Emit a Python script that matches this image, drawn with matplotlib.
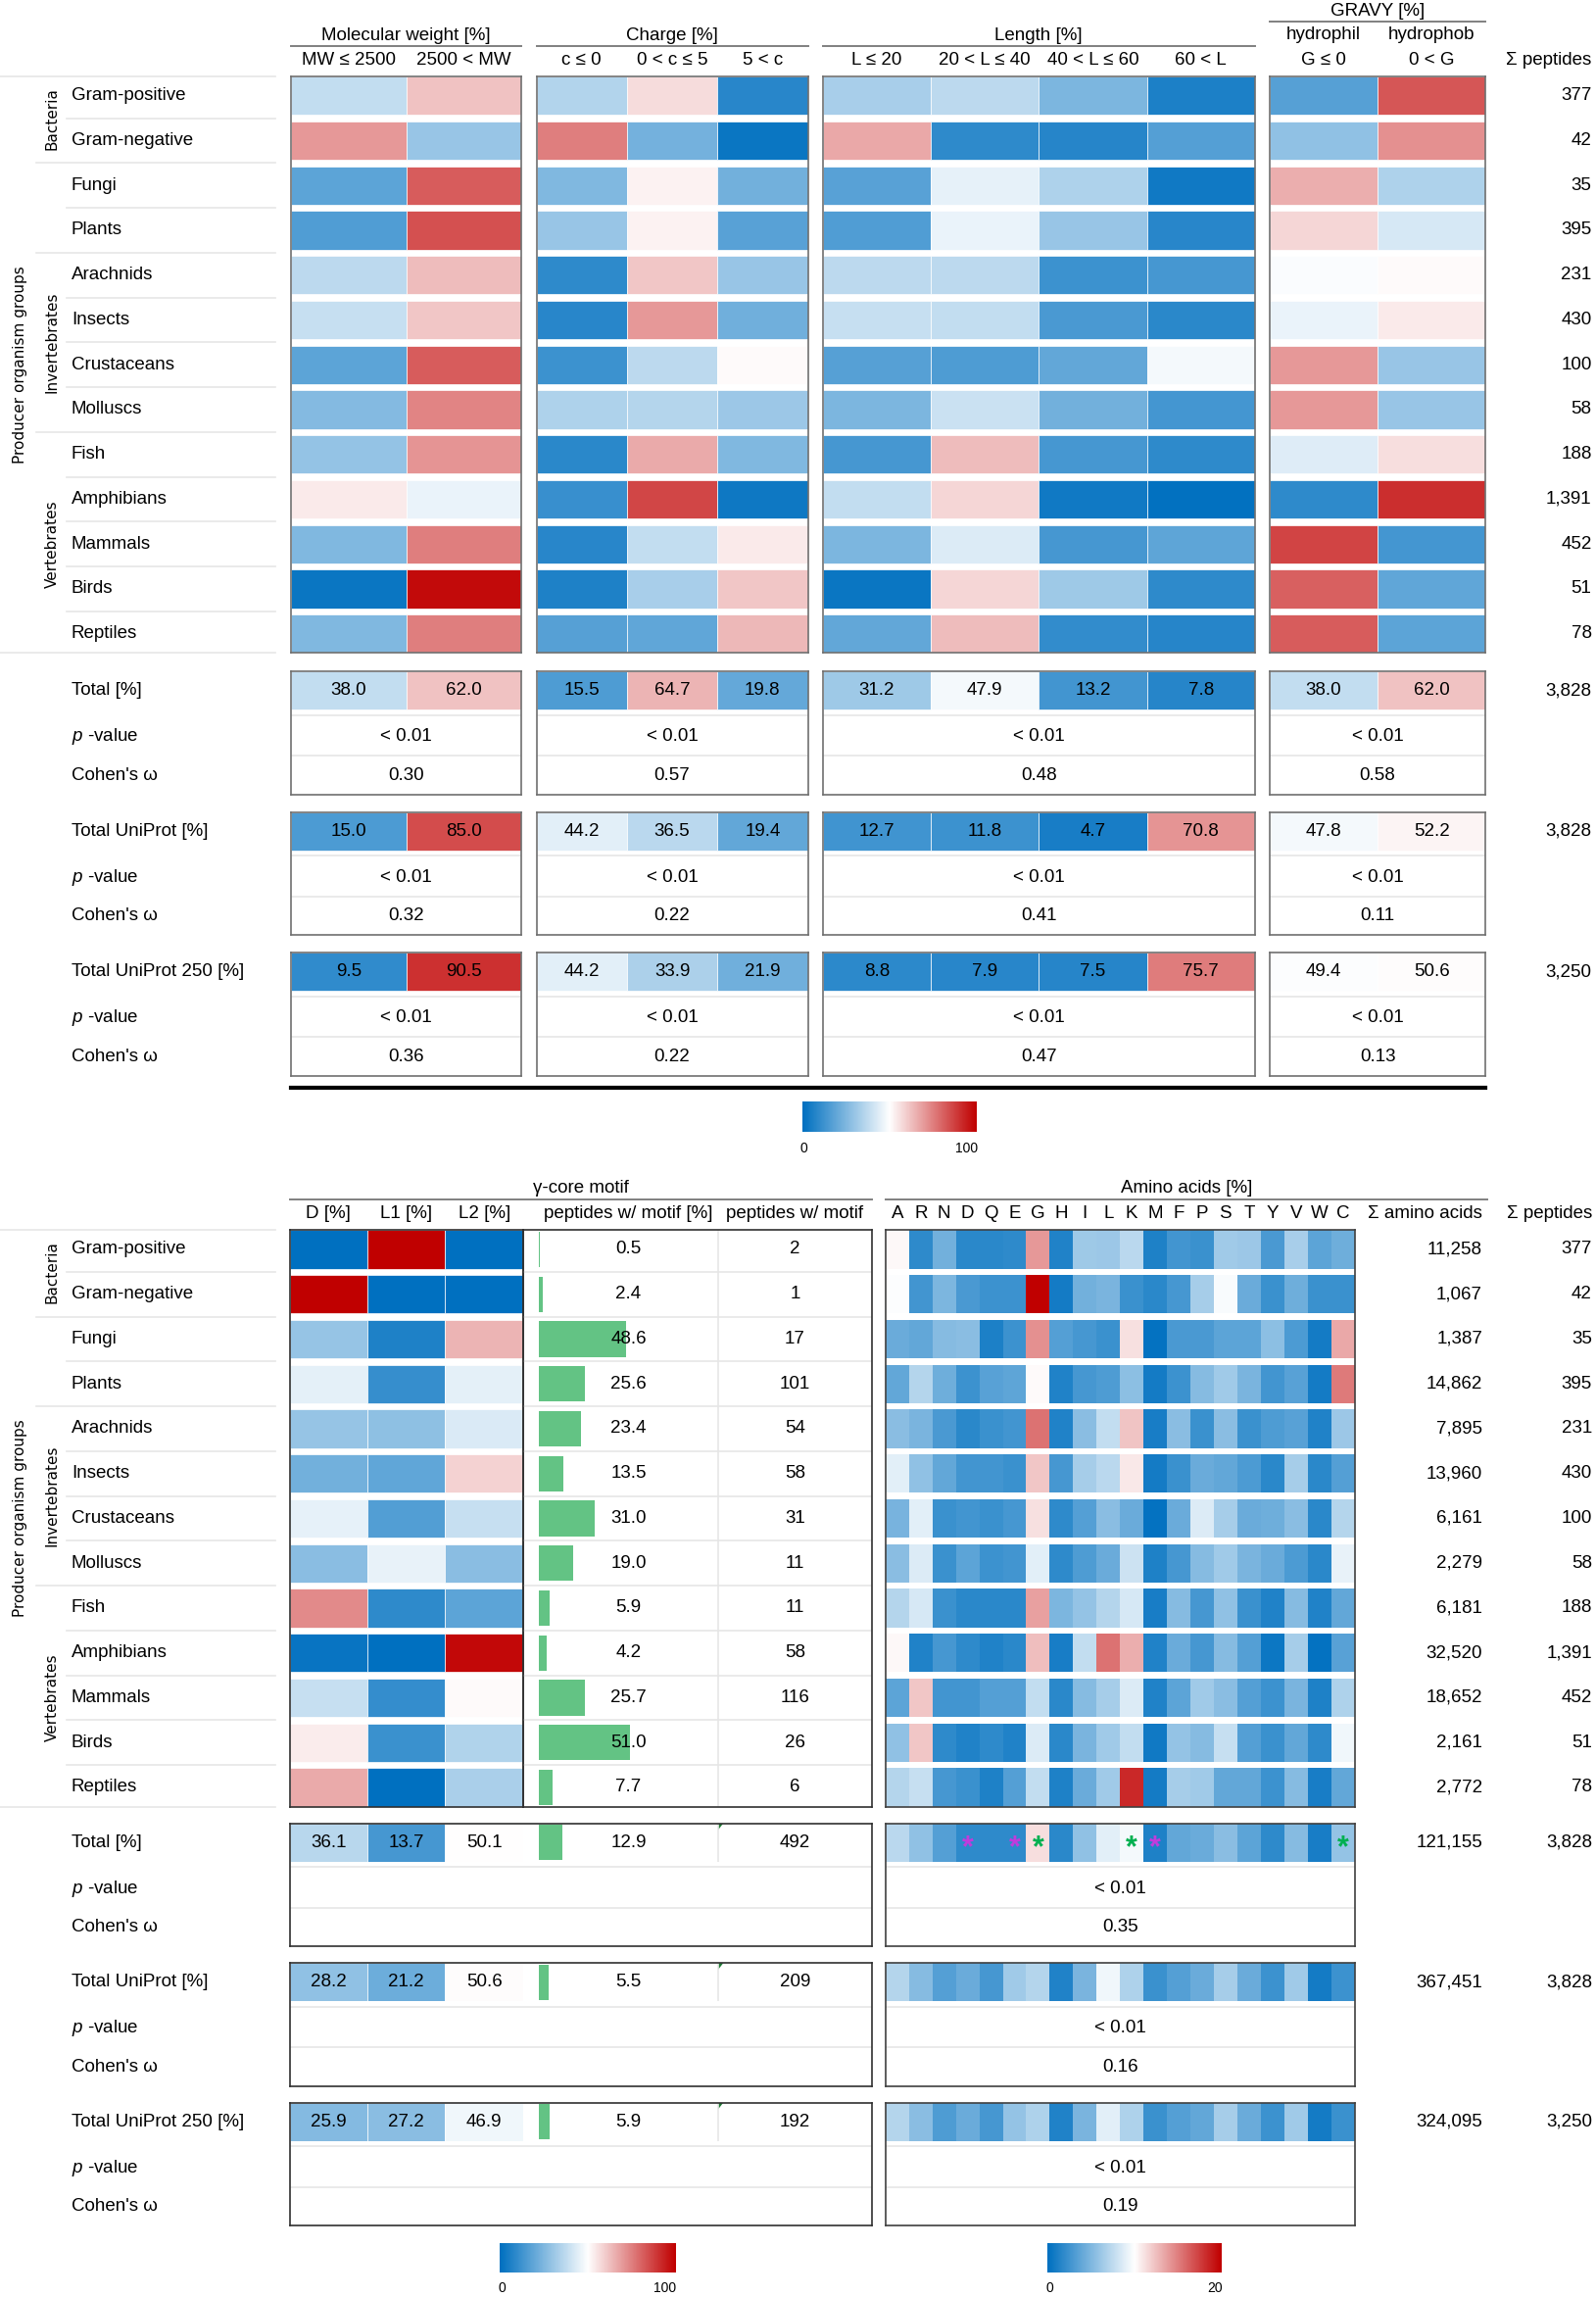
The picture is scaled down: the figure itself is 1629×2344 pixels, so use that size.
import numpy as np
import matplotlib
matplotlib.use("Agg")
import matplotlib.pyplot as plt
from matplotlib.colors import LinearSegmentedColormap, Normalize

plt.rcParams['font.family'] = ['Liberation Sans', 'DejaVu Sans']
plt.rcParams['mathtext.fontset'] = 'custom'
plt.rcParams['mathtext.rm'] = 'Liberation Sans'
plt.rcParams['mathtext.it'] = 'Liberation Sans:italic'

# ---------------- data ----------------
groups = ['Gram-positive', 'Gram-negative', 'Fungi', 'Plants', 'Arachnids', 'Insects',
          'Crustaceans', 'Molluscs', 'Fish', 'Amphibians', 'Mammals', 'Birds', 'Reptiles']
peptides = [377, 42, 35, 395, 231, 430, 100, 58, 188, 1391, 452, 51, 78]

mw_labels = ['MW ≤ 2500', '2500 < MW']
mw = [[38, 62], [70, 30], [18, 82], [16, 84], [37, 63], [39, 61], [18, 82],
      [26, 74], [29, 71], [54, 46], [25, 75], [2, 98], [25, 75]]

charge_labels = ['c ≤ 0', '0 < c ≤ 5', '5 < c']
charge = [[35, 57, 8], [75, 23, 2], [25, 52.5, 22.5], [30, 52.5, 17.5], [9, 61, 30],
          [8, 70, 22], [12, 37, 51], [34, 35.5, 30.5], [8.5, 66.5, 25], [11, 86, 3],
          [8, 38, 54], [6, 33, 61], [17, 19, 64]]

length_labels = ['L ≤ 20', '20 < L ≤ 40', '40 < L ≤ 60', '60 < L']
length = [[33, 37, 24.5, 5.5], [67, 9, 7.5, 16.5], [17.5, 45, 34, 3.5], [16, 46, 30, 8],
          [37, 37, 12, 14], [39, 38, 14.5, 8.5], [17, 15.5, 19.5, 48], [24.5, 39.5, 22.5, 13.5],
          [14, 63, 14, 9], [38, 58, 3.5, 0.5], [24.5, 43, 14, 18.5], [2, 58, 31, 9],
          [19.5, 63, 10, 7.5]]

gravy_top = ['hydrophil', 'hydrophob']
gravy_labels = ['G ≤ 0', '0 < G']
gravy = [[17, 83], [28.5, 71.5], [66, 34], [58, 42], [49, 51], [46, 54], [70, 30],
         [70, 30], [43.5, 56.5], [9, 91], [86.5, 13.5], [81, 19], [82, 18]]

tot_labels = ['Total [%]', 'Total UniProt [%]', 'Total UniProt 250 [%]']
tot_mw = [[38.0, 62.0], [15.0, 85.0], [9.5, 90.5]]
tot_charge = [[15.5, 64.7, 19.8], [44.2, 36.5, 19.4], [44.2, 33.9, 21.9]]
tot_length = [[31.2, 47.9, 13.2, 7.8], [12.7, 11.8, 4.7, 70.8], [8.8, 7.9, 7.5, 75.7]]
tot_gravy = [[38.0, 62.0], [47.8, 52.2], [49.4, 50.6]]
omega_mw = ['0.30', '0.32', '0.36']
omega_charge = ['0.57', '0.22', '0.22']
omega_length = ['0.48', '0.41', '0.47']
omega_gravy = ['0.58', '0.11', '0.13']
p_value = '< 0.01'
tot_peptides = [3828, 3828, 3250]

motif_labels = ['D [%]', 'L1 [%]', 'L2 [%]']
motif = [[0, 100, 0], [100, 0, 0], [29.4, 5.9, 64.7], [44.6, 10.9, 44.6], [29.6, 27.8, 42.6],
         [22.4, 19.0, 58.6], [45.2, 16.1, 38.7], [27.3, 45.5, 27.3], [72.7, 9.1, 18.2],
         [1.7, 0, 98.3], [38.8, 10.3, 50.9], [53.8, 11.5, 34.6], [66.7, 0, 33.3]]
motif_pct = [0.5, 2.4, 48.6, 25.6, 23.4, 13.5, 31.0, 19.0, 5.9, 4.2, 25.7, 51.0, 7.7]
motif_n = [2, 1, 17, 101, 54, 58, 31, 11, 11, 58, 116, 26, 6]
tot_motif = [[36.1, 13.7, 50.1], [28.2, 21.2, 50.6], [25.9, 27.2, 46.9]]
tot_motif_pct = [12.9, 5.5, 5.9]
tot_motif_n = [492, 209, 192]

amino = list('ARNDQEGHILKMFPSTYVWC')
aa = [
    [10.3, 1.8, 4.5, 1.7, 1.7, 1.8, 14.0, 1.3, 6.2, 6.1, 7.3, 1.2, 2.6, 2.3, 6.3, 6.1, 2.9, 6.6, 3.6, 4.3],
    [9.9, 2.6, 4.9, 2.9, 2.4, 2.4, 20.0, 0.8, 4.5, 4.8, 2.3, 1.7, 2.8, 6.5, 9.7, 4.2, 2.3, 4.3, 2.3, 2.3],
    [4.2, 3.9, 5.3, 5.4, 1.1, 2.4, 14.3, 3.3, 2.8, 2.3, 11.2, 0.2, 2.9, 2.9, 3.6, 3.6, 5.5, 3.0, 0.8, 13.4],
    [3.9, 7.1, 4.3, 2.4, 3.5, 3.7, 10.2, 1.3, 2.8, 3.1, 5.5, 0.8, 2.4, 5.3, 6.3, 4.8, 2.6, 3.5, 0.8, 15.2],
    [5.4, 4.8, 2.9, 1.7, 2.3, 2.6, 15.5, 1.3, 5.4, 7.6, 12.3, 1.0, 5.4, 2.3, 5.4, 2.3, 3.1, 3.5, 1.3, 6.1],
    [8.9, 5.7, 3.9, 2.6, 2.6, 2.3, 12.2, 2.8, 6.5, 7.3, 10.9, 0.8, 2.3, 4.2, 3.9, 3.0, 1.7, 6.5, 1.7, 3.3],
    [4.7, 8.9, 2.3, 2.6, 2.3, 2.8, 11.2, 1.8, 3.3, 5.4, 4.2, 0.2, 4.2, 8.6, 6.5, 4.2, 4.3, 5.4, 1.7, 7.1],
    [5.4, 8.6, 2.3, 3.6, 2.4, 2.6, 8.9, 1.8, 3.1, 4.2, 8.0, 1.2, 2.8, 5.3, 6.3, 4.8, 4.2, 3.0, 1.7, 9.1],
    [7.1, 8.4, 2.3, 1.7, 1.7, 1.7, 13.7, 4.9, 5.8, 7.1, 8.4, 1.0, 5.3, 2.8, 5.7, 2.3, 1.3, 5.3, 1.3, 3.9],
    [10.3, 1.3, 2.8, 1.8, 1.3, 1.7, 12.5, 1.0, 7.6, 15.5, 13.2, 1.3, 4.2, 2.8, 5.3, 3.3, 0.5, 6.5, 0.2, 3.5],
    [3.6, 12.2, 2.6, 2.6, 3.3, 3.3, 7.6, 1.7, 5.3, 6.5, 8.6, 1.3, 3.6, 6.3, 5.4, 3.3, 2.4, 4.8, 1.2, 6.8],
    [5.7, 12.2, 1.8, 1.3, 1.8, 1.3, 8.6, 1.7, 4.8, 6.3, 7.6, 0.7, 5.8, 5.3, 7.8, 3.3, 2.3, 3.9, 1.8, 9.4],
    [7.1, 7.8, 2.8, 2.3, 1.2, 3.3, 7.6, 1.2, 4.2, 6.3, 18.4, 0.8, 6.5, 6.3, 3.9, 3.9, 2.4, 5.3, 1.0, 3.9],
]
aa_n = [11258, 1067, 1387, 14862, 7895, 13960, 6161, 2279, 6181, 32520, 18652, 2161, 2772]
tot_aa = [
    [7.3, 5.7, 3.3, 1.8, 1.8, 1.8, 11.3, 1.7, 5.7, 8.9, 9.6, 1.2, 3.9, 4.2, 5.4, 3.6, 1.8, 5.3, 1.0, 5.8],
    [7.1, 5.3, 3.3, 4.2, 2.8, 6.3, 7.1, 1.3, 4.8, 9.4, 6.8, 2.3, 3.3, 4.2, 6.5, 4.2, 2.4, 6.3, 0.8, 2.4],
    [7.1, 5.4, 3.1, 4.2, 2.8, 5.8, 6.8, 1.3, 4.8, 8.9, 6.8, 2.3, 3.3, 3.9, 6.5, 4.2, 2.4, 6.3, 0.8, 2.3],
]
tot_aa_n = [121155, 367451, 324095]
omega_aa = ['0.35', '0.16', '0.19']
stars_magenta = ['D', 'E', 'M']
stars_green = ['G', 'K', 'C']

# ---------------- layout (reference pixels at 1090 x 1568) ----------------
W, H = 1090.0, 1568.0
PITCH, CELL = 30.6, 26.2
TOP_Y0, BOT_Y0 = 52.3, 839.8
TOT_TOP = [458.4, 554.3, 650.2]
TOT_BOT = [1244.6, 1340.0, 1435.3]
BOX_H, P_OFF, C_OFF, SEP1, SEP2 = 84.0, 44.6, 71.0, 30.0, 57.5
LAB_X = 48.7
FS = 13.5
EDGE = '#707070'
FAINT = '#E6E6E6'
GREEN = '#63C384'

cmap = LinearSegmentedColormap.from_list('excel3', ['#0070C0', '#FFFFFF', '#C00000'])
norm100 = Normalize(0, 100)
norm20 = Normalize(0, 20)

fig = plt.figure(figsize=(16.29, 23.44), dpi=100)
bg = fig.add_axes([0, 0, 1, 1])
bg.set_xlim(0, W)
bg.set_ylim(H, 0)
bg.axis('off')


def add_ax(x0, y0, x1, y1):
    ax = fig.add_axes([x0 / W, 1 - y1 / H, (x1 - x0) / W, (y1 - y0) / H])
    ax.set_xticks([])
    ax.set_yticks([])
    ax.patch.set_alpha(0)
    return ax


def frame(ax, color=EDGE, lw=1.2):
    for s in ax.spines.values():
        s.set_color(color)
        s.set_linewidth(lw)


def noframe(ax):
    for s in ax.spines.values():
        s.set_visible(False)


def cells(ax, rows, norm, ys, h, lw=0.5):
    for y, row in zip(ys, rows):
        row = np.asarray(row, float)
        ax.bar(np.arange(len(row)) + 0.5, h, bottom=y, width=1.0,
               color=cmap(norm(row)), edgecolor='white' if lw else 'none', linewidth=lw)


def heat_block(x0, x1, y0, rows, norm, color=EDGE, lw=0.5):
    n, nc = len(rows), len(rows[0])
    h = (n - 1) * PITCH + CELL
    ax = add_ax(x0, y0, x1, y0 + h)
    ax.set_xlim(0, nc)
    ax.set_ylim(h, 0)
    cells(ax, rows, norm, np.arange(n) * PITCH, CELL, lw)
    frame(ax, color)
    return ax


def total_box(x0, x1, y0, row, norm, omega, numbers=True, color=EDGE, lw=0.5):
    nc = len(row)
    ax = add_ax(x0, y0, x1, y0 + BOX_H)
    ax.set_xlim(0, nc)
    ax.set_ylim(BOX_H, 0)
    cells(ax, [row], norm, [0], CELL, lw)
    if numbers:
        for j, v in enumerate(row):
            ax.text(j + 0.5, CELL / 2, f'{v:.1f}', ha='center', va='center', fontsize=FS)
    for yl in (SEP1, SEP2):
        ax.axhline(yl, color=FAINT, lw=1.2)
    if omega is not None:
        ax.text(nc / 2, P_OFF, p_value, ha='center', va='center', fontsize=FS)
        ax.text(nc / 2, C_OFF, omega, ha='center', va='center', fontsize=FS)
    frame(ax, color)
    return ax


def row_labels(y0):
    n = len(groups)
    for i, g in enumerate(groups):
        bg.text(LAB_X, y0 + i * PITCH + CELL / 2, g, va='center', fontsize=FS)
    for i in range(n + 1):
        if i == 0:
            y, xs = y0, 0
        elif i == n:
            y, xs = y0 + (n - 1) * PITCH + CELL, 0
        else:
            y = y0 + i * PITCH - (PITCH - CELL) / 2
            xs = 24.5 if i in (2, 4, 8) else 45.5
        bg.plot([xs, 188], [y, y], color=FAINT, lw=1.2)
    kw = dict(rotation=90, ha='center', va='center', fontsize=11, family='DejaVu Sans')
    for name, a, b in [('Bacteria', 0, 1), ('Invertebrates', 4, 7), ('Vertebrates', 8, 12)]:
        bg.text(35.4, y0 + (a + b) / 2 * PITCH + CELL / 2, name, **kw)
    bg.text(14, y0 + 6 * PITCH + CELL / 2, 'Producer organism groups', **kw)


def total_labels(tops):
    for y0, name in zip(tops, tot_labels):
        bg.text(LAB_X, y0 + CELL / 2, name, va='center', fontsize=FS)
        bg.text(LAB_X, y0 + P_OFF, '$p$ -value', va='center', fontsize=FS)
        bg.text(LAB_X, y0 + C_OFF, "Cohen's ω", va='center', fontsize=FS)


def colorbar(x0, x1, y0, y1, norm, lo, hi, xlo, xhi, ytxt):
    ax = add_ax(x0, y0, x1, y1)
    ax.imshow(np.linspace(norm.vmin, norm.vmax, 300)[None, :], aspect='auto',
              cmap=cmap, norm=norm, interpolation='bilinear')
    noframe(ax)
    bg.text(xlo, ytxt, lo, ha='center', va='center', fontsize=10)
    bg.text(xhi, ytxt, hi, ha='center', va='center', fontsize=10)


# ---------------- top part ----------------
row_labels(TOP_Y0)
total_labels(TOT_TOP)

top_blocks = [
    ((198.8, 356.2), mw, tot_mw, omega_mw, mw_labels, 'Molecular weight [%]'),
    ((366.4, 551.7), charge, tot_charge, omega_charge, charge_labels, 'Charge [%]'),
    ((561.9, 857.0), length, tot_length, omega_length, length_labels, 'Length [%]'),
    ((866.9, 1014.7), gravy, tot_gravy, omega_gravy, gravy_labels, None),
]
for (x0, x1), data, tot, om, subs, title in top_blocks:
    heat_block(x0, x1, TOP_Y0, data, norm100)
    for k in range(3):
        total_box(x0, x1, TOT_TOP[k], tot[k], norm100, om[k])
    cw = (x1 - x0) / len(subs)
    for j, s in enumerate(subs):
        bg.text(x0 + (j + 0.5) * cw, 41.3, s, ha='center', va='center', fontsize=FS)
    if title:
        bg.text((x0 + x1) / 2, 24.5, title, ha='center', va='center', fontsize=FS)
        bg.plot([x0, x1], [31.7, 31.7], color='#808080', lw=1.4)
    else:
        bg.text((x0 + x1) / 2, 7.4, 'GRAVY [%]', ha='center', va='center', fontsize=FS)
        bg.plot([x0, x1], [14.9, 14.9], color='#808080', lw=1.4)
        for j, s in enumerate(gravy_top):
            bg.text(x0 + (j + 0.5) * cw, 23.9, s, ha='center', va='center', fontsize=FS)

bg.text(1087, 41.3, 'Σ peptides', ha='right', va='center', fontsize=FS)
for i, v in enumerate(peptides):
    bg.text(1087, TOP_Y0 + i * PITCH + CELL / 2, f'{v:,}', ha='right', va='center', fontsize=FS)
for y0, v in zip(TOT_TOP, tot_peptides):
    bg.text(1087, y0 + CELL / 2, f'{v:,}', ha='right', va='center', fontsize=FS)

bg.plot([198.8, 1014.7], [742.7, 742.7], color='black', lw=3)
colorbar(547.7, 666.2, 752.2, 772.3, norm100, '0', '100', 548.7, 660, 784)

# ---------------- bottom part ----------------
row_labels(BOT_Y0)
total_labels(TOT_BOT)

GX0, GX1, GX2 = 197.8, 357.2, 595.4
BAR0, BAR100 = 368.0, 490.5
PXP = (BAR100 - BAR0) / 100
XL = ((GX1 - BAR0) / PXP, (GX2 - BAR0) / PXP)
CNT_X = 100 + (GX2 - BAR100) / 2 / PXP
AX0, AX1 = 604.8, 925.1

bg.text((GX0 + GX2) / 2, 811, 'γ-core motif', ha='center', va='center', fontsize=FS)
bg.plot([GX0, GX2], [819, 819], color='#808080', lw=1.4)
bg.text((AX0 + 1015.6) / 2, 811, 'Amino acids [%]', ha='center', va='center', fontsize=FS)
bg.plot([AX0, 1015.6], [819, 819], color='#808080', lw=1.4)
mcw = (GX1 - GX0) / 3
for j, s in enumerate(motif_labels):
    bg.text(GX0 + (j + 0.5) * mcw, 828.6, s, ha='center', va='center', fontsize=FS)
bg.text(BAR0 + 50 * PXP, 828.6, 'peptides w/ motif [%]', ha='center', va='center', fontsize=FS)
bg.text(BAR0 + CNT_X * PXP, 828.6, 'peptides w/ motif', ha='center', va='center', fontsize=FS)
acw = (AX1 - AX0) / len(amino)
for j, s in enumerate(amino):
    bg.text(AX0 + (j + 0.5) * acw, 828.6, s, ha='center', va='center', fontsize=FS)
bg.text(1012.4, 828.6, 'Σ amino acids', ha='right', va='center', fontsize=FS)
bg.text(1087.3, 828.6, 'Σ peptides', ha='right', va='center', fontsize=FS)

# gamma-core motif block
n = len(groups)
hb = (n - 1) * PITCH + CELL
heat_block(GX0, GX1, BOT_Y0, motif, norm100, color='#303030')
bax = add_ax(GX1, BOT_Y0, GX2, BOT_Y0 + hb)
bax.set_xlim(*XL)
bax.set_ylim(hb, 0)
yc = np.arange(n) * PITCH + CELL / 2
bax.barh(yc, motif_pct, height=CELL - 2, color=GREEN)
bax.axvline(100, color=FAINT, lw=1.2)
for i in range(1, n):
    bax.axhline(i * PITCH - (PITCH - CELL) / 2, color=FAINT, lw=1.2)
for y, v, c in zip(yc, motif_pct, motif_n):
    bax.text(50, y, f'{v:.1f}', ha='center', va='center', fontsize=FS)
    bax.text(CNT_X, y, f'{c:,}', ha='center', va='center', fontsize=FS)
frame(bax, '#303030')

for k in range(3):
    y0 = TOT_BOT[k]
    hax = add_ax(GX0, y0, GX1, y0 + CELL)
    hax.set_xlim(0, 3)
    hax.set_ylim(CELL, 0)
    cells(hax, [tot_motif[k]], norm100, [0], CELL)
    for j, v in enumerate(tot_motif[k]):
        hax.text(j + 0.5, CELL / 2, f'{v:.1f}', ha='center', va='center', fontsize=FS)
    noframe(hax)
    tax = add_ax(GX1, y0, GX2, y0 + CELL)
    tax.set_xlim(*XL)
    tax.set_ylim(CELL, 0)
    tax.barh([CELL / 2], [tot_motif_pct[k]], height=CELL - 2, color=GREEN)
    tax.axvline(100, color=FAINT, lw=1.2)
    tri = 3.5 / PXP
    tax.fill([100, 100 + tri, 100], [0, 0, 4.5], color='#1E7B34', lw=0)
    tax.text(50, CELL / 2, f'{tot_motif_pct[k]:.1f}', ha='center', va='center', fontsize=FS)
    tax.text(CNT_X, CELL / 2, f'{tot_motif_n[k]:,}', ha='center', va='center', fontsize=FS)
    noframe(tax)
    box = add_ax(GX0, y0, GX2, y0 + BOX_H)
    box.set_ylim(BOX_H, 0)
    for yl in (SEP1, SEP2):
        box.axhline(yl, color=FAINT, lw=1.2)
    frame(box, '#303030')

# amino acid block
heat_block(AX0, AX1, BOT_Y0, aa, norm20, color='#404040', lw=0)
for i, (a, p) in enumerate(zip(aa_n, peptides)):
    y = BOT_Y0 + i * PITCH + CELL / 2
    bg.text(1012.4, y, f'{a:,}', ha='right', va='center', fontsize=FS)
    bg.text(1087.3, y, f'{p:,}', ha='right', va='center', fontsize=FS)

for k in range(3):
    ax = total_box(AX0, AX1, TOT_BOT[k], tot_aa[k], norm20, omega_aa[k],
                   numbers=False, color='#404040', lw=0)
    y = TOT_BOT[k] + CELL / 2
    bg.text(1012.4, y, f'{tot_aa_n[k]:,}', ha='right', va='center', fontsize=FS)
    bg.text(1087.3, y, f'{tot_peptides[k]:,}', ha='right', va='center', fontsize=FS)
    if k == 0:
        for letters, col in ((stars_magenta, '#C03CDC'), (stars_green, '#00B050')):
            for s in letters:
                ax.text(amino.index(s) + 0.5, CELL / 2 + 4, '*', color=col, fontsize=22,
                        fontweight='bold', ha='center', va='center')

colorbar(341, 461, 1531, 1551, norm100, '0', '100', 343, 454, 1562)
colorbar(715, 834, 1531, 1551, norm20, '0', '20', 716.7, 829.5, 1562)

fig.savefig('out.png', dpi=100)
